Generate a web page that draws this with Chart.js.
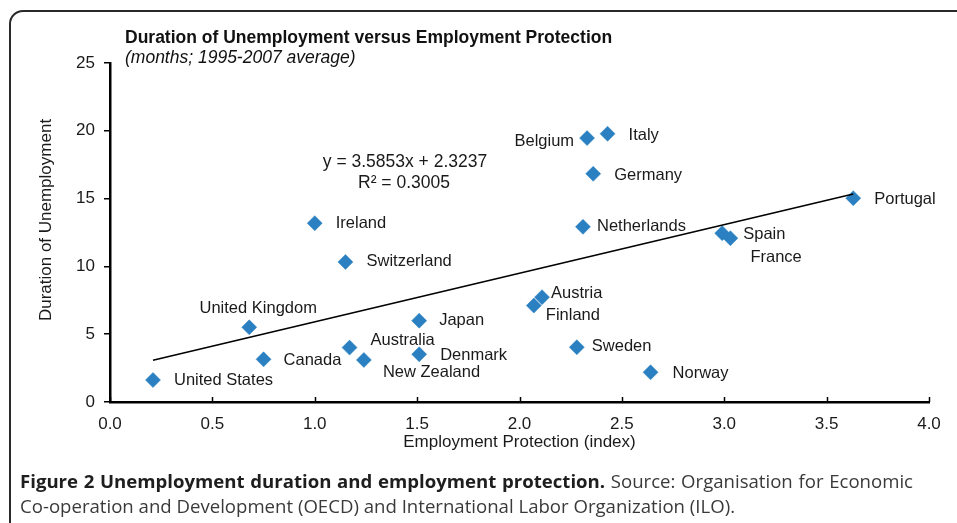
<!DOCTYPE html>
<html>
<head>
<meta charset="utf-8">
<script src="https://cdn.jsdelivr.net/npm/chart.js@4.4.1/dist/chart.umd.min.js"></script>
<style>
  html, body { margin: 0; padding: 0; background: #fff; }
  body { width: 957px; height: 523px; position: relative; overflow: hidden; }
  .frame {
    position: absolute; left: 9px; top: 10px; width: 1000px; height: 600px;
    border: 2px solid #2a2a2a; border-radius: 14px; box-sizing: border-box;
  }
  #chartWrap { position: absolute; left: 0; top: 0; width: 957px; height: 523px; }
  .title {
    position: absolute; left: 125px; top: 27px; white-space: nowrap;
    font: bold 17.5px "Liberation Sans", Arial, sans-serif; color: #111;
  }
  .subtitle {
    position: absolute; left: 125px; top: 47px; white-space: nowrap;
    font: italic 17.5px "Liberation Sans", Arial, sans-serif; color: #111;
  }
  .caption {
    position: absolute; left: 20px; top: 468px; width: 893px;
    font: 18.6px "Open Sans", sans-serif; line-height: 25px; color: #3a3a3a;
  }
  .caption .l1 { display: block; text-align: justify; text-align-last: justify; white-space: nowrap; }
  .caption .l2 { display: block; white-space: nowrap; }
  .caption b { color: #1e1e1e; }
</style>
</head>
<body>
<div class="frame"></div>
<div id="chartWrap"><canvas id="scatterChart"></canvas></div>
<div class="title">Duration of Unemployment versus Employment Protection</div>
<div class="subtitle">(months; 1995-2007 average)</div>
<div class="caption"><span class="l1"><b>Figure 2 Unemployment duration and employment protection.</b> Source: Organisation for Economic</span><span class="l2">Co-operation and Development (OECD) and International Labor Organization (ILO).</span></div>

<script>
'use strict';

// ─── Data ───
const countries = [
  'United States', 'United Kingdom', 'Canada', 'Ireland', 'Switzerland',
  'Australia', 'New Zealand', 'Japan', 'Denmark', 'Austria', 'Finland',
  'Sweden', 'Norway', 'Belgium', 'Italy', 'Germany', 'Netherlands',
  'Spain', 'France', 'Portugal'
];
const protectionIndex = [
  0.21, 0.68, 0.75, 1.00, 1.15,
  1.17, 1.24, 1.51, 1.51, 2.11, 2.07,
  2.28, 2.64, 2.33, 2.43, 2.36, 2.31,
  2.99, 3.03, 3.63
];
const durationMonths = [
  1.62, 5.51, 3.15, 13.19, 10.33,
  4.01, 3.10, 6.00, 3.52, 7.73, 7.11,
  4.04, 2.19, 19.46, 19.78, 16.83, 12.92,
  12.45, 12.08, 15.03
];
const trendX = [0.21, 3.63];
const trendY = [3.08, 15.34];
const xTicks = [0, 0.5, 1.0, 1.5, 2.0, 2.5, 3.0, 3.5, 4.0];
const yTicks = [0, 5, 10, 15, 20, 25];

const trendText = ['y = 3.5853x + 2.3237', 'R² = 0.3005'];

// label placement around each marker: [dx, dy, align]
const labelPlacement = {
  'United States': [21, 0, 'left'],
  'United Kingdom': [9, -19, 'center'],
  'Canada': [20, 1, 'left'],
  'Ireland': [21, 0, 'left'],
  'Switzerland': [21, 0, 'left'],
  'Australia': [21, -7, 'left'],
  'New Zealand': [19, 12, 'left'],
  'Japan': [20, 0, 'left'],
  'Denmark': [21, 1, 'left'],
  'Austria': [9, -4, 'left'],
  'Finland': [12, 10, 'left'],
  'Sweden': [15, -1, 'left'],
  'Norway': [22, 1, 'left'],
  'Belgium': [-13, 3, 'right'],
  'Italy': [21, 2, 'left'],
  'Germany': [21, 2, 'left'],
  'Netherlands': [14, 0, 'left'],
  'Spain': [21, 1, 'left'],
  'France': [20, 19, 'left'],
  'Portugal': [21, 1, 'left'],
};

const FONT = '"Liberation Sans", Arial, sans-serif';
const INK = '#1a1a1a';
const MARKER = '#2a80c0';

// ─── Plugins ───
const pointLabels = {
  id: 'pointLabels',
  afterDatasetsDraw(chart) {
    const meta = chart.getDatasetMeta(1);
    const ctx = chart.ctx;
    ctx.save();
    ctx.font = '16.5px ' + FONT;
    ctx.fillStyle = INK;
    ctx.textBaseline = 'middle';
    meta.data.forEach((pt, i) => {
      const name = countries[i];
      const [dx, dy, align] = labelPlacement[name] || [18, 0, 'left'];
      ctx.textAlign = align;
      ctx.fillText(name, pt.x + dx, pt.y + dy);
    });
    // regression equation
    ctx.font = '17.5px ' + FONT;
    ctx.textAlign = 'center';
    ctx.fillText(trendText[0], 405, 162);
    ctx.fillText(trendText[1], 404, 183);
    ctx.restore();
  }
};

const axisDecor = {
  id: 'axisDecor',
  afterDraw(chart) {
    const ctx = chart.ctx;
    const xs = chart.scales.x;
    const area = chart.chartArea;
    ctx.save();
    // inward tick marks on x axis
    ctx.strokeStyle = '#000';
    ctx.lineWidth = 1.5;
    xTicks.forEach(v => {
      const px = Math.round(xs.getPixelForValue(v)) + 0.5;
      ctx.beginPath();
      ctx.moveTo(px, area.bottom);
      ctx.lineTo(px, area.bottom - 5);
      ctx.stroke();
    });
    // axis titles
    ctx.fillStyle = INK;
    ctx.font = '17px ' + FONT;
    ctx.textAlign = 'center';
    ctx.textBaseline = 'middle';
    ctx.fillText('Employment Protection (index)', (area.left + area.right) / 2, 442);
    ctx.translate(46, 220);
    ctx.rotate(-Math.PI / 2);
    ctx.fillText('Duration of Unemployment', 0, 0);
    ctx.restore();
  }
};

// ─── Chart ───
function drawChart() {
  const ctx = document.getElementById('scatterChart').getContext('2d');
  const points = protectionIndex.map((x, i) => ({ x, y: durationMonths[i] }));
  const trend = trendX.map((x, i) => ({ x, y: trendY[i] }));

  return new Chart(ctx, {
    type: 'scatter',
    data: {
      datasets: [
        {
          type: 'line',
          label: 'Trend',
          data: trend,
          borderColor: '#000',
          borderWidth: 1.6,
          pointRadius: 0,
          fill: false,
        },
        {
          label: 'Countries',
          data: points,
          pointStyle: 'rectRot',
          pointRadius: 7.5,
          pointBackgroundColor: MARKER,
          pointBorderColor: MARKER,
          pointBorderWidth: 0.5,
        },
      ],
    },
    options: {
      responsive: true,
      maintainAspectRatio: false,
      animation: false,
      events: [],
      layout: { padding: { left: 0, top: 63, right: 28, bottom: 81 } },
      plugins: {
        legend: { display: false },
        tooltip: { enabled: false },
      },
      scales: {
        x: {
          type: 'linear',
          min: 0,
          max: 4,
          afterFit: s => { s.height = 40; },
          afterBuildTicks: s => { s.ticks = xTicks.map(v => ({ value: v })); },
          grid: { display: false },
          border: { display: true, color: '#000', width: 2.5 },
          ticks: {
            color: INK,
            font: { family: FONT, size: 17 },
            padding: 4,
            maxRotation: 0,
            callback: v => Number(v).toFixed(1),
          },
        },
        y: {
          type: 'linear',
          min: 0,
          max: 25,
          afterFit: s => { s.width = 110; },
          afterBuildTicks: s => { s.ticks = yTicks.map(v => ({ value: v })); },
          grid: { drawOnChartArea: false, drawTicks: true, tickLength: 6, color: '#000', lineWidth: 1.5 },
          border: { display: true, color: '#000', width: 2.5 },
          ticks: {
            color: INK,
            font: { family: FONT, size: 17 },
            padding: 9,
          },
        },
      },
    },
    plugins: [pointLabels, axisDecor],
  });
}

drawChart();
</script>
</body>
</html>
